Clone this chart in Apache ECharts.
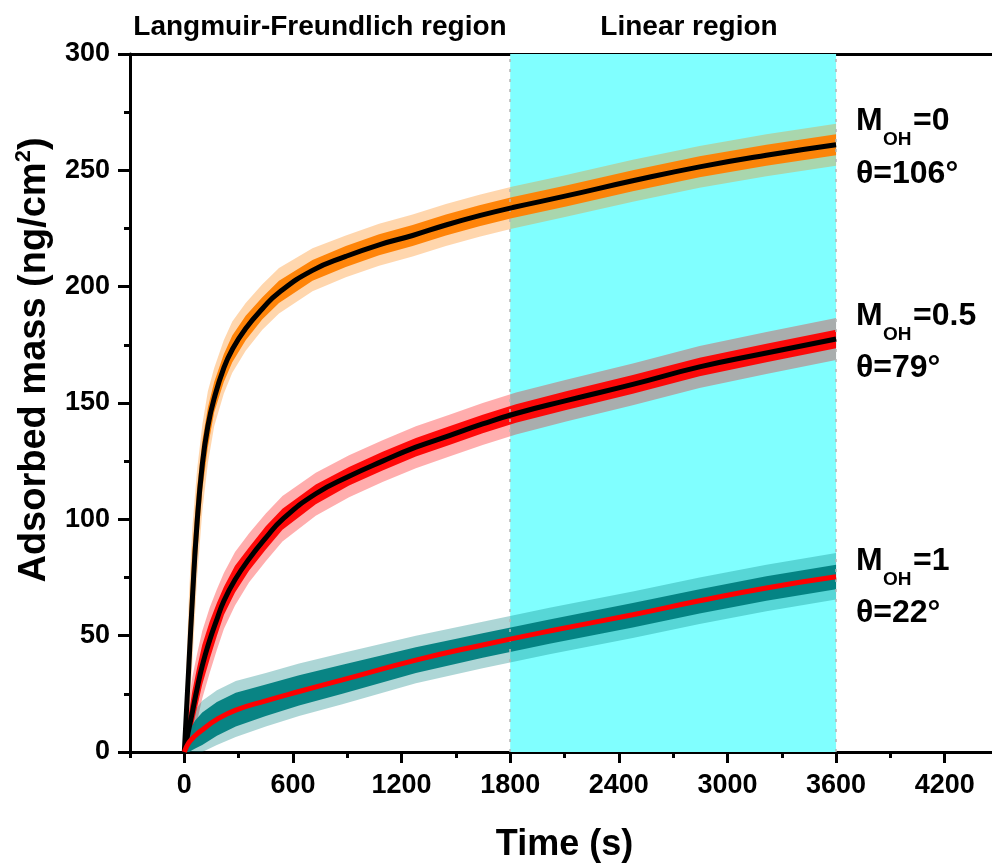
<!DOCTYPE html>
<html>
<head>
<meta charset="utf-8">
<script src="https://cdn.jsdelivr.net/npm/echarts@6/dist/echarts.min.js"></script>
<style>
  html, body { margin: 0; padding: 0; background: #fff; }
  #chart { width: 992px; height: 866px; }
</style>
</head>
<body>
<div id="chart"></div>
<script>
// ---- axis ticks ----
const timeTicks = [0, 600, 1200, 1800, 2400, 3000, 3600, 4200];
const timeMinorTicks = [-300, 300, 900, 1500, 2100, 2700, 3300, 3900];
const linearRegion = [1800, 3600];

// ---- M_OH = 0 (theta = 106°): measured cloud and Langmuir-Freundlich / linear fit ----
const orangeTime = [0, 10, 25, 44, 70, 100, 130, 165, 218, 265, 339, 431, 523, 708, 892, 1076, 1261, 1445, 1630, 1814, 2109, 2477, 2846, 3215, 3600];
const orangeFit = [0, 15, 37, 65, 98, 124, 140, 152, 165, 173, 182, 190.5, 197.5, 207, 213, 218, 222, 226.5, 230.5, 234, 239, 245.5, 251.5, 256.5, 261];
const orangeHi = [0, 26, 56, 86, 113, 134, 148, 159, 171, 179, 187.5, 195.5, 202.5, 211.5, 217.5, 222.5, 226.5, 231, 235, 238.5, 243.5, 250, 256, 261, 265.5];
const orangeLo = [0, 8, 24, 48, 84, 113, 131, 146, 159, 167.5, 177, 186, 193, 202.5, 208.5, 213.5, 217.5, 222, 226, 229.5, 234.5, 241, 247, 252, 256.5];
const orangeHiOut = [0, 34, 66, 96, 121, 141, 155, 165, 177, 185, 193, 201, 208, 216.5, 222, 227, 231, 235.5, 239.5, 243, 248, 254.5, 260.5, 265.5, 270];
const orangeLoOut = [0, 3, 16, 38, 74, 104, 124, 140, 154, 163, 172.5, 181.5, 188.5, 198, 204, 209, 213, 217.5, 221.5, 225, 230, 236.5, 242.5, 247.5, 252];

// ---- M_OH = 0.5 (theta = 79°) ----
const redTime = [0, 20, 44, 70, 99, 140, 180, 219, 280, 358, 450, 542, 726, 910, 1095, 1279, 1464, 1648, 1832, 2109, 2477, 2846, 3215, 3600];
const redFit = [0, 8, 17, 27, 37, 48, 57, 65, 74, 83, 92, 100, 111, 118.5, 125, 131, 136, 141, 145.5, 151, 158, 165.5, 171.5, 177.5];
const redHi = [0, 14, 26, 36, 46, 56, 64, 71, 80, 88, 97, 104.5, 115, 122.5, 129, 135, 140, 145, 149.5, 155, 162, 169.5, 175.5, 181.5];
const redLo = [0, 3, 10, 19, 29, 40, 50, 59, 68.5, 78, 87, 95.5, 106.5, 114.5, 121, 127, 132, 137, 141.5, 147, 154, 161.5, 167.5, 173.5];
const redHiOut = [0, 19, 32, 42, 52, 62, 70, 77, 86, 94, 102.5, 110, 120, 127.5, 134, 140, 145, 150, 154.5, 160, 167, 174.5, 180.5, 186.5];
const redLoOut = [0, 0, 5, 13, 23, 34, 44, 53, 63, 73, 82, 90.5, 101.5, 109.5, 116, 122, 127, 132, 136.5, 142, 149, 156.5, 162.5, 168.5];

// ---- M_OH = 1 (theta = 22°) ----
const tealTime = [0, 25, 60, 99, 180, 284, 450, 634, 873, 1279, 1648, 2017, 2477, 2846, 3215, 3600];
const tealFit = [0, 4, 7, 9.5, 14, 18, 22, 26, 31, 39.5, 46, 52, 59, 65, 70.5, 75.3];
const tealHi = [0, 9, 13.5, 17, 21.5, 25.5, 29, 33, 37.5, 45, 51, 57, 64, 70, 75.5, 80.5];
const tealLo = [0, 0, 1.5, 3, 7, 11, 15.5, 20, 25, 34, 40.5, 46.5, 53.5, 59.5, 65, 70];
const tealHiOut = [0, 13, 18, 22, 26.5, 30.5, 34, 38, 42.5, 50, 56, 62, 69, 75, 80.5, 85.5];
const tealLoOut = [0, 0, 0, 0, 3, 6.5, 11, 15.5, 20.5, 29.5, 36, 42, 49, 55, 60.5, 65.5];

// ---- annotation texts ----
const regionNames = ['Langmuir-Freundlich region', 'Linear region'];
const r2Values = ['0.992', '0.993', '0.982'];
const surfaceM = ['0', '0.5', '1'];
const surfaceTheta = ['106°', '79°', '22°'];

const FONT = '"Liberation Sans", Arial, Helvetica, sans-serif';
const ORANGE = '#FF8000', RED = '#FF0000', TEAL = '#008080', CYAN = '#80FFFF';

function pairs(xs, ys) { return xs.map((x, i) => [x, ys[i]]); }

// Filled band between a lower and an upper boundary (the spread of the measured points)
function band(times, lo, hi, color, opacity, z) {
  return {
    type: 'custom',
    xAxisIndex: 0, yAxisIndex: 0,
    data: [[times[0], lo[0]]],
    silent: true, clip: true, z: z,
    renderItem: function (params, api) {
      const upper = times.map((t, i) => api.coord([t, hi[i]]));
      const lower = times.map((t, i) => api.coord([t, lo[i]])).reverse();
      return { type: 'polygon', shape: { points: upper.concat(lower) },
               style: { fill: color, opacity: opacity } };
    }
  };
}

function fitLine(times, values, color, z) {
  return {
    type: 'line', xAxisIndex: 0, yAxisIndex: 0,
    data: pairs(times, values),
    smooth: 0.5,
    symbol: 'none', silent: true, clip: true, z: z,
    lineStyle: { color: color, width: 5, cap: 'butt' }
  };
}

const txt = (size) => ({ fontFamily: FONT, fontWeight: 'bold', fontSize: size, color: '#000' });

// text annotations
const graphics = [];
graphics.push({ type: 'text', x: 320, y: 27, silent: true,
  style: { text: regionNames[0], font: 'bold 28px ' + FONT, fill: '#000', align: 'center', verticalAlign: 'middle' } });
graphics.push({ type: 'text', x: 689, y: 27, silent: true,
  style: { text: regionNames[1], font: 'bold 28px ' + FONT, fill: '#000', align: 'center', verticalAlign: 'middle' } });

const r2Pos = [[745, 105], [749, 300], [752, 541]];
r2Values.forEach((v, i) => {
  graphics.push({ type: 'text', x: r2Pos[i][0], y: r2Pos[i][1], silent: true,
    style: {
      text: '{r|R}{s|2}{r|=' + v + '}', align: 'center', verticalAlign: 'middle',
      rich: {
        r: { fontFamily: FONT, fontWeight: 'bold', fontSize: 21, fill: '#000', lineHeight: 26 },
        s: { fontFamily: FONT, fontWeight: 'bold', fontSize: 13, fill: '#000', lineHeight: 14, verticalAlign: 'top' }
      }
    } });
});

const mRowY = [121, 316, 561];
const thetaRowY = [174, 368, 613];
surfaceM.forEach((m, i) => {
  const y = mRowY[i];
  graphics.push({ type: 'text', x: 856, y: y, silent: true,
    style: { text: 'M', font: 'bold 32px ' + FONT, fill: '#000', align: 'left', verticalAlign: 'middle' } });
  graphics.push({ type: 'text', x: 883, y: y + 19, silent: true,
    style: { text: 'OH', font: 'bold 19px ' + FONT, fill: '#000', align: 'left', verticalAlign: 'middle' } });
  graphics.push({ type: 'text', x: 913, y: y, silent: true,
    style: { text: '=' + m, font: 'bold 32px ' + FONT, fill: '#000', align: 'left', verticalAlign: 'middle' } });
  graphics.push({ type: 'text', x: 856, y: thetaRowY[i], silent: true,
    style: { text: 'θ=' + surfaceTheta[i], font: 'bold 32px ' + FONT, fill: '#000', align: 'left', verticalAlign: 'middle' } });
});

const plain = (v) => String(v);

const option = {
  animation: false,
  backgroundColor: '#fff',
  grid: { left: 130, right: -7, top: 54, bottom: 114, containLabel: false, outerBoundsMode: 'none' },
  xAxis: [
    {
      type: 'value', position: 'bottom', min: -300, max: 4500,
      axisLine: { show: true, onZero: false, lineStyle: { color: '#000', width: 3 } },
      axisTick: { show: true, customValues: timeTicks, length: 11, lineStyle: { color: '#000', width: 3 } },
      axisLabel: Object.assign({ customValues: timeTicks, margin: 20, formatter: plain }, txt(27)),
      splitLine: { show: false },
      name: 'Time (s)', nameLocation: 'middle', nameGap: 75,
      nameTextStyle: txt(36)
    },
    {
      type: 'value', position: 'bottom', min: -300, max: 4500,
      axisLine: { show: false, onZero: false },
      axisTick: { show: true, customValues: timeMinorTicks, length: 6, lineStyle: { color: '#000', width: 3 } },
      axisLabel: { show: false }, splitLine: { show: false }
    },
    {
      type: 'value', position: 'top', min: -300, max: 4500,
      axisLine: { show: true, onZero: false, lineStyle: { color: '#000', width: 3 } },
      axisTick: { show: false }, axisLabel: { show: false }, splitLine: { show: false }
    }
  ],
  yAxis: {
    type: 'value', min: 0, max: 300, interval: 50,
    axisLine: { show: true, onZero: false, lineStyle: { color: '#000', width: 3 } },
    axisTick: { show: true, length: 12, lineStyle: { color: '#000', width: 3 } },
    minorTick: { show: true, splitNumber: 2, length: 6, lineStyle: { color: '#000', width: 3 } },
    splitLine: { show: false }, minorSplitLine: { show: false },
    axisLabel: Object.assign({ margin: 20, formatter: plain }, txt(27)),
    name: '{t|Adsorbed mass (ng/cm}{s|2}{t|)}',
    nameLocation: 'middle', nameGap: 73, nameRotate: 90,
    nameTextStyle: {
      padding: [0, 0, 0, 86],
      rich: {
        t: { fontFamily: FONT, fontWeight: 'bold', fontSize: 38, color: '#000', lineHeight: 44 },
        s: { fontFamily: FONT, fontWeight: 'bold', fontSize: 22, color: '#000', lineHeight: 24, verticalAlign: 'top' }
      }
    }
  },
  series: [
    {
      type: 'line', xAxisIndex: 0, yAxisIndex: 0, data: [], z: 0, silent: true,
      markArea: { silent: true, itemStyle: { color: CYAN },
        data: [[{ xAxis: linearRegion[0] }, { xAxis: linearRegion[1] }]] },
      markLine: { silent: true, symbol: 'none', label: { show: false },
        lineStyle: { type: [3, 7], color: '#b5b5b5', width: 1.5 },
        data: [{ xAxis: linearRegion[0] }, { xAxis: linearRegion[1] }] }
    },
    band(orangeTime, orangeLoOut, orangeHiOut, ORANGE, 0.32, 1),
    band(orangeTime, orangeLo, orangeHi, ORANGE, 0.95, 2),
    band(redTime, redLoOut, redHiOut, RED, 0.32, 1),
    band(redTime, redLo, redHi, RED, 0.95, 2),
    band(tealTime, tealLoOut, tealHiOut, TEAL, 0.32, 1),
    band(tealTime, tealLo, tealHi, TEAL, 0.95, 2),
    fitLine(orangeTime, orangeFit, '#000', 5),
    fitLine(redTime, redFit, '#000', 5),
    fitLine(tealTime, tealFit, RED, 5)
  ],
  graphic: graphics
};

const chart = echarts.init(document.getElementById('chart'), null, { renderer: 'canvas' });
chart.setOption(option);
</script>
</body>
</html>
